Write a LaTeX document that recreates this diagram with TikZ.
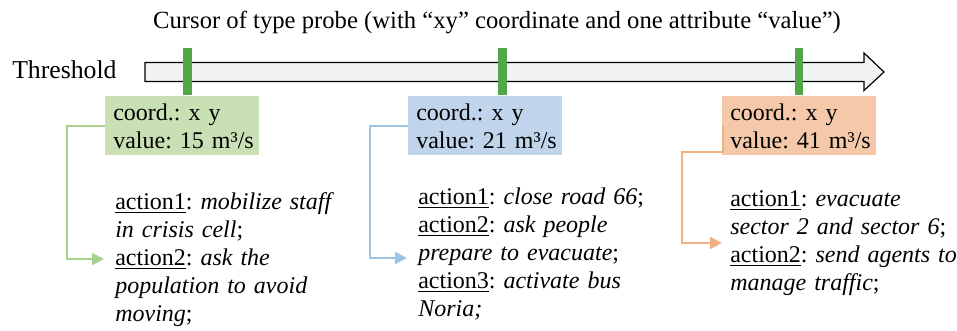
\documentclass[tikz,border=0pt]{standalone}
\usepackage{fontspec}
\setmainfont{Liberation Serif}
\usetikzlibrary{arrows.meta}
\definecolor{gbox}{RGB}{201,224,180}
\definecolor{bbox}{RGB}{192,213,236}
\definecolor{obox}{RGB}{244,200,168}
\definecolor{gline}{RGB}{169,209,142}
\definecolor{bline}{RGB}{157,195,230}
\definecolor{oline}{RGB}{240,176,130}
\definecolor{cursorgreen}{RGB}{82,168,72}
\definecolor{arrowfill}{RGB}{242,242,242}
\frenchspacing
\tikzset{
  x=0.75pt, y=-0.75pt,
  every node/.style={font=\fontsize{18pt}{21pt}\selectfont\frenchspacing, inner sep=0pt},
  probebox/.style={anchor=north west, text width=103.5pt, inner xsep=6pt, inner ysep=0pt,
    text height=18pt, text depth=26.25pt, align=left},
  actiontext/.style={anchor=base west, align=left, text width=220pt},
  conn/.style={line width=1.5pt, -{Triangle[length=9pt,width=9pt]}},
  cursorbar/.style={draw=none, fill=cursorgreen, minimum width=6.4pt, minimum height=35pt, anchor=north},
}
\begin{document}
\begin{tikzpicture}
\useasboundingbox (0,0) rectangle (957,331);
% title
\node[anchor=base, font=\fontsize{18.5pt}{21pt}\selectfont] (title) at (497,29) {Cursor of type probe (with “xy” coordinate and one attribute “value”)};
% threshold label and arrow
\node[anchor=base west, font=\fontsize{19.3pt}{21pt}\selectfont] (thr) at (12,79) {Threshold};
\draw[line width=0.9pt, fill=arrowfill] (145,62.5) -- (864,62.5) -- (864,53) -- (884,72) -- (864,90.5) -- (864,81.5) -- (145,81.5) -- cycle;
% boxes
\node[probebox, fill=gbox] (g) at (105,96) {\mbox{coord.: x y}\\\mbox{value: 15 m³/s}};
\node[probebox, fill=bbox] (b) at (408,96) {\mbox{coord.: x y}\\\mbox{value: 21 m³/s}};
\node[probebox, fill=obox] (o) at (722,96) {\mbox{coord.: x y}\\\mbox{value: 41 m³/s}};
% cursor bars
\node[cursorbar] (cg) at (187.5,48) {};
\node[cursorbar] (cb) at (502.5,48) {};
\node[cursorbar] (co) at (799,48) {};
% action texts
\node[actiontext] (ga) at (115,210) {\underline{action1}: \textit{mobilize staff}\\\textit{in crisis cell};\\\underline{action2}: \textit{ask the}\\\textit{population to avoid}\\\textit{moving};};
\node[actiontext] (ba) at (418,205) {\underline{action1}: \textit{close road 66};\\\underline{action2}: \textit{ask people}\\\textit{prepare to evacuate};\\\underline{action3}: \textit{activate bus}\\\textit{Noria;}};
\node[actiontext] (oa) at (730,207) {\underline{action1}: \textit{evacuate}\\\textit{sector 2 and sector 6};\\\underline{action2}: \textit{send agents to}\\\textit{manage traffic};};
% connector end points
\coordinate (gt) at (104,259);
\coordinate (bt) at (407,258);
\coordinate (ot) at (722,243);
% connectors
\draw[conn, gline] (g.west) -- ++(-38,0) |- (gt);
\draw[conn, bline] (b.west) -- ++(-38,0) |- (bt);
\draw[conn, oline] ([xshift=0.75pt]o.west) -- ++(0,26) -- ++(-41,0) |- (ot);
\end{tikzpicture}
\end{document}
